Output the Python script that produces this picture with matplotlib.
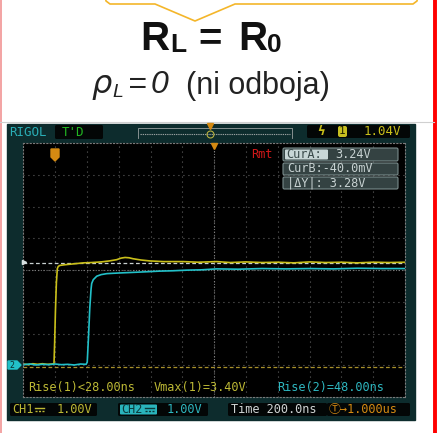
import matplotlib.pyplot as plt
import matplotlib.patches as patches
import numpy as np

# scope settings (200 ns/div, 1 V/div, trigger 1 div from the left)
t_left, t_right = -200, 2200
v_bottom, v_top = -1, 7
t_step, v_step = 200, 1

# CH1 (yellow), ns / V
ch1_t = [-200, -170, -140, -110, -80, -50, -20, -7, -3, 2, 8, 14, 20, 31, 60, 100, 140,
         178, 230, 290, 340, 387, 415, 440, 465, 490, 540, 597, 680, 806, 900, 1016,
         1100, 1200, 1300, 1400, 1500, 1600, 1700, 1800, 1900, 2000, 2100, 2200]
ch1_v = [0.04, 0.02, 0.05, 0.03, 0.05, 0.03, 0.04, 0.05, 0.7, 1.7, 2.6, 3.05, 3.12, 3.15,
         3.17, 3.19, 3.21, 3.23, 3.24, 3.26, 3.29, 3.33, 3.38, 3.40, 3.39, 3.36, 3.32,
         3.29, 3.27, 3.27, 3.25, 3.27, 3.24, 3.26, 3.24, 3.25, 3.23, 3.26, 3.24, 3.25,
         3.23, 3.25, 3.24, 3.25]

# CH2 (cyan)
ch2_t = [-200, -160, -120, -80, -40, 0, 40, 80, 120, 160, 195, 202, 210, 218, 226, 230,
         240, 262, 290, 325, 400, 492, 580, 660, 740, 828, 920, 1016, 1150, 1300, 1450,
         1600, 1750, 1900, 2050, 2200]
ch2_v = [0.02, 0.04, 0.01, 0.03, 0.02, 0.04, 0.02, 0.03, 0.01, 0.04, 0.03, 0.1, 0.9,
         1.8, 2.4, 2.58, 2.7, 2.81, 2.86, 2.89, 2.91, 2.93, 2.95, 2.97, 2.98, 3.0, 3.01,
         3.04, 3.03, 3.05, 3.04, 3.05, 3.04, 3.06, 3.05, 3.05]

cur_a = 3.24
cur_b = -0.04

meas_texts = ["Rise(1)<28.00ns", "Vmax(1)=3.40V", "Rise(2)=48.00ns"]
cursor_texts = ["3.24V", "CurB:-40.0mV", "|\u0394Y|: 3.28V"]

mono = "DejaVu Sans Mono"
fams = [mono, "DejaVu Sans", "Noto Sans CJK JP"]
yel = "#c9bf1a"
cyan = "#22c0c8"
yel_txt = "#bdb935"
cyan_txt = "#2eb7c0"
orange = "#d48a12"
teal = "#0d2c2d"

fig = plt.figure(figsize=(4.42, 4.33), dpi=100)

# slide background in pixel coordinates
ax0 = fig.add_axes([0, 0, 1, 1])
ax0.set_xlim(0, 442)
ax0.set_ylim(433, 0)
ax0.axis("off")

ax0.plot([0.8, 0.8], [0, 433], color="#f3a3a3", lw=1.4)
ax0.plot([435, 435], [0, 433], color="#ff0000", lw=2.8)
ax0.plot([0, 434], [122, 122], color="#d0d0d0", lw=0.8)

# callout box bottom with pointer
cx = [105, 106, 110, 155, 195, 235, 413, 417, 418]
cy = [-5, 1, 4, 4, 21, 4, 4, 1, -5]
ax0.plot(cx, cy, color="#f4b62a", lw=1.2, solid_joinstyle="round")

# titles
ax0.text(140, 50, "R", fontsize=29, fontweight="bold", family="Liberation Sans", color="#111")
ax0.text(170, 52, "L", fontsize=19, fontweight="bold", family="Liberation Sans", color="#111")
ax0.text(198, 50, "=", fontsize=29, fontweight="bold", family="Liberation Sans", color="#111")
ax0.text(238, 50, "R", fontsize=29, fontweight="bold", family="Liberation Sans", color="#111")
ax0.text(267, 52, "0", fontsize=19, fontweight="bold", family="Liberation Sans", color="#111")

ax0.text(91, 93, "\u03c1", fontsize=23, style="italic", family="DejaVu Sans", color="#222")
ax0.text(112, 97, "L", fontsize=14, style="italic", family="Liberation Sans", color="#222")
ax0.text(128, 93, "=", fontsize=23, style="italic", family="Liberation Sans", color="#222")
ax0.text(151, 93, "0", fontsize=23, style="italic", family="Liberation Sans", color="#222")
ax0.text(186, 94, "(ni odboja)", fontsize=22, family="Liberation Sans", color="#222")

# scope frame
ax0.add_patch(patches.Rectangle((7, 124), 408, 296, color=teal))

# grid area
sc = fig.add_axes([23.3 / 442, (433 - 397) / 433, 381.7 / 442, 253.7 / 433])
sc.set_facecolor("black")
sc.set_xlim(t_left, t_right)
sc.set_ylim(v_bottom, v_top)
sc.set_xticks([])
sc.set_yticks([])
for s in sc.spines.values():
    s.set_color("#7a7a7a")
    s.set_linestyle((0, (1, 2)))
    s.set_linewidth(0.8)

for t in np.arange(t_left + t_step, t_right, t_step):
    sc.axvline(t, color="#777777", lw=0.8, ls=(0, (0.8, 3.7)))
for v in np.arange(v_bottom + v_step, v_top, v_step):
    sc.axhline(v, color="#777777", lw=0.8, ls=(0, (0.8, 3.7)))
sc.axhline(3, color="#8a8a8a", lw=0.8, ls=(0, (0.8, 1.8)))
sc.axvline(1000, color="#8a8a8a", lw=0.8, ls=(0, (0.8, 1.8)))

sc.axhline(cur_a, color="#c8d0d0", lw=0.9, ls=(0, (3, 2)))
sc.axhline(cur_b, color="#a8902a", lw=0.9, ls=(0, (3, 2)))

sc.plot(ch1_t, ch1_v, color=yel, lw=1.2)
sc.plot(ch2_t, ch2_v, color=cyan, lw=1.2)

# overlay for the on-screen labels
ov = fig.add_axes([0, 0, 1, 1])
ov.set_xlim(0, 442)
ov.set_ylim(433, 0)
ov.axis("off")
ov.patch.set_alpha(0)


def box(x, y, w, h, fc, ec="none", r=1.5):
    ov.add_patch(patches.FancyBboxPatch((x, y), w, h, boxstyle="round,pad=0,rounding_size=%s" % r,
                                        fc=fc, ec=ec, lw=0.8))


def mtext(x, y, s, color, size=8.6, **kw):
    ov.text(x, y, s, color=color, fontsize=size, family=fams,
            va="center", ha="left", **kw)


def dc_sign(x, y, color):
    # DC coupling symbol (no installed font has U+2393)
    ov.plot([x, x + 9], [y - 2, y - 2], color=color, lw=1.0)
    ov.plot([x, x + 9], [y + 1.5, y + 1.5], color=color, lw=1.0, ls=(0, (1.5, 1)))


# top bar
mtext(9, 132, "RIGOL", "#2aaeb6", size=9)
box(55, 125, 48, 14, "#030606")
mtext(62, 132, "T'D", "#22b822", size=9)
ov.plot([138, 138, 292, 292], [138, 128, 128, 138], color="#9aa0a0", lw=0.6)
ov.plot([140, 290], [134, 134], color="#9aa0a0", lw=0.8, ls=(0, (1.2, 0.8)))
ov.plot([210], [134], marker="o", ms=5, mfc="none", mec="#b8b040", mew=0.8)
ov.plot([210], [126], marker="v", ms=4, color=orange)
box(307, 125, 103, 13, "#030606")
mtext(317, 131.5, "\u03df", yel, size=9, fontweight="bold")
box(338, 126, 9, 11, "#c8c020", r=2)
mtext(339, 131.5, "1", "#222200", size=8)
mtext(364, 131.5, "1.04V", yel, size=9)

# markers on grid
ov.plot([214], [146], marker="v", ms=5, color=orange)
ov.add_patch(patches.Polygon([[51, 149], [59, 149], [59, 157], [55, 161], [51, 157]],
                             closed=True, color=orange))
ov.add_patch(patches.Polygon([[8, 361], [17, 361], [21, 365], [17, 369], [8, 369]],
                             closed=True, color=cyan))
mtext(9.5, 365, "2", "#0b2a2b", size=6)
ov.plot([24], [262], marker=">", ms=3, color="#d8e0e0")

# cursor readout
mtext(251, 155, "Rmt", "#d01818", size=8.6)
box(283, 148, 115, 13, "#344242", ec="#7a8c8c")
box(285, 149.5, 43, 10, "#c8d6d6", r=1)
mtext(286, 155, "CurA:", "#3a4a4a", size=8.6)
mtext(335, 155, cursor_texts[0], "#c8d2d2", size=8.6)
box(283, 163, 115, 12, "#344242", ec="#7a8c8c")
mtext(287, 169, cursor_texts[1], "#c8d2d2", size=8.6)
box(283, 177, 115, 12, "#344242", ec="#7a8c8c")
mtext(287, 183, cursor_texts[2], "#c8d2d2", size=8.6)

# measurements
mtext(28, 388, meas_texts[0], yel_txt)
mtext(154, 388, meas_texts[1], yel_txt)
mtext(277, 388, meas_texts[2], cyan_txt)

# bottom status bar
box(10, 403, 87, 13, "#030606")
mtext(12, 409.5, "CH1", yel_txt)
dc_sign(35, 409.5, yel_txt)
mtext(57, 409.5, "1.00V", yel_txt)
box(118, 403, 90, 13, "#030606")
box(120, 404.5, 37, 10, "#2ab4bc", r=1)
mtext(121, 409.5, "CH2", "#0b3a3c")
dc_sign(144.5, 409.5, "#0b3a3c")
mtext(167, 409.5, "1.00V", cyan_txt)
box(228, 403, 99, 13, "#030606")
mtext(231, 409.5, "Time 200.0ns", "#d0d4d4")
box(327, 403, 83, 13, "#030606")
mtext(329, 409.5, "\u24c9\u21921.000us", orange)

fig.savefig("out.png", dpi=100)
